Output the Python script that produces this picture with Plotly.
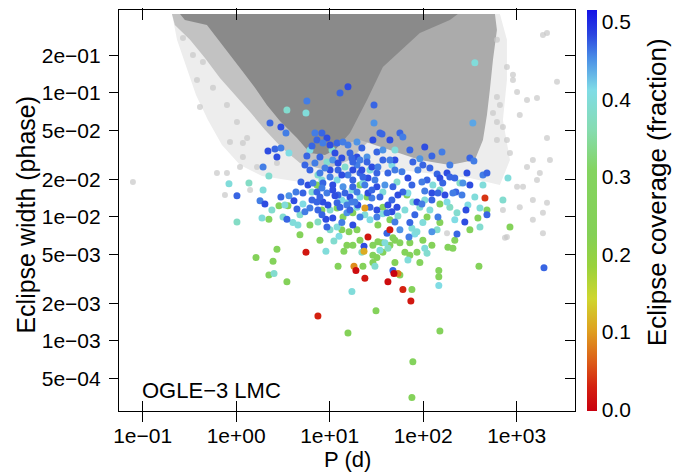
import plotly.graph_objects as go

# ---------------- data ----------------
x_tickvals = [0.1, 1, 10, 100, 1000]
x_ticktext = ["1e\u221201", "1e+00", "1e+01", "1e+02", "1e+03"]
y_tickvals = [0.2, 0.1, 0.05, 0.02, 0.01, 0.005, 0.002, 0.001, 0.0005]
y_ticktext = ["2e\u221201", "1e\u221201", "5e\u221202", "2e\u221202", "1e\u221202",
              "5e\u221203", "2e\u221203", "1e\u221203", "5e\u221204"]
cb_tickvals = [0.0, 0.1, 0.2, 0.3, 0.4, 0.5]
cb_ticktext = ["0.0", "0.1", "0.2", "0.3", "0.4", "0.5"]

# gray background population, outlined as density regions (period d, width phase)
halo_P = [0.206, 662, 787, 787, 713, 848, 662, 316, 56.4, 4.81, 1.89, 1.10, 0.705, 0.499, 0.372, 0.290, 0.233]
halo_W = [0.434, 0.434, 0.268, 0.127, 0.0606, 0.0288, 0.0181, 0.0206, 0.0239, 0.0191, 0.0214, 0.0263, 0.0381, 0.0606, 0.0964, 0.168, 0.268]
band_P = [0.206, 0.221, 0.321, 0.464, 0.671, 0.971, 1.41, 2.03, 3.09, 4.81, 8.91, 16.5, 27.0, 21.1, 4.81]
band_W = [0.434, 0.353, 0.268, 0.191, 0.132, 0.0964, 0.0703, 0.0504, 0.0360, 0.0272, 0.0239, 0.0288, 0.0418, 0.127, 0.434]
mid_P = [12.9, 586, 615, 558, 517, 481, 436, 357, 193, 92.2, 44.1, 21.1, 12.9]
mid_W = [0.434, 0.434, 0.322, 0.185, 0.106, 0.0665, 0.0418, 0.0288, 0.0263, 0.0288, 0.0347, 0.0418, 0.0381]
core_P = [0.251, 235, 193, 92.2, 37.1, 25.1, 16.5, 11.4, 8.91, 6.15, 4.47, 2.94, 2.13, 1.59, 1.18, 0.859, 0.623, 0.487, 0.283]
core_W = [0.434, 0.434, 0.388, 0.305, 0.162, 0.0878, 0.0476, 0.0347, 0.0316, 0.0328, 0.0434, 0.0594, 0.080, 0.110, 0.148, 0.202, 0.278, 0.353, 0.388]
faint_P = [0.381, 0.410, 0.623, 0.797, 1.10, 1.18, 0.0787, 615, 2110, 787, 913, 1290, 615, 558, 713, 1490, 1770, 787, 1170, 1490,
           1910, 1490, 1910, 787, 2110, 0.270, 0.345, 0.441, 0.565, 0.797, 0.859, 1.02, 1.31, 1.18, 0.759, 1.67, 2.73, 1.41, 615, 848,
           1290, 1650, 1010, 713, 2270, 1080, 913, 1910, 662, 1010, 1650, 615, 1080, 2700, 2110, 180, 750]
faint_W = [0.127, 0.0771, 0.0226, 0.0226, 0.0253, 0.0305, 0.0191, 0.268, 0.305, 0.162, 0.127, 0.0878, 0.0929, 0.069, 0.0532, 0.0288, 0.0226, 0.0418, 0.0175, 0.0137,
           0.0108, 0.0095, 0.0074, 0.0069, 0.0130, 0.278, 0.202, 0.178, 0.110, 0.080, 0.0403, 0.0583, 0.0434, 0.0395, 0.0150, 0.0253, 0.0272, 0.0165, 0.0418, 0.0328,
           0.0253, 0.0199, 0.0175, 0.0114, 0.0288, 0.0120, 0.140, 0.294, 0.080, 0.102, 0.0911, 0.0583, 0.0665, 0.123, 0.0434, 0.0074, 0.0068]

# coloured systems: period (d), eclipse width (phase), eclipse coverage (fraction)
blue_P = [12.9, 15.7, 5.71, 29.8, 29.8, 2.30, 3.01, 3.41, 36.3, 340, 56.4, 60.7, 2.19, 2.60, 3.01, 2.73, 5.71, 1.94, 4.93, 5.86,
          1.02, 1.80, 2.03, 3.01, 3.67, 4.36, 4.15, 4.47, 5.44, 3.49, 9.12, 7.49, 70.5, 124, 230, 23.3, 47.5, 1960, 159, 104,
          316, 349, 49.9, 77.6, 92.2, 124, 193, 180, 99.3, 59.3, 68.7, 110, 97, 141, 151, 162, 436, 481, 294, 266,
          224, 104, 124, 144, 208, 193, 85.8, 97, 124, 287, 481, 144, 279, 72.1, 56.4, 32.0, 46.3, 41.0,
          6.96, 8.27, 9.35, 12.0, 13.9, 19.6, 22.1, 29.0, 34.5, 7.31, 8.47, 11.4, 7.87, 6.96, 13.5, 16.5, 25.1, 32.0, 19.6, 28.3,
          6.15, 7.87, 10.1, 12.3, 15.7, 21.1, 25.7, 32.0, 6.63, 8.47, 10.8, 13.9, 17.7, 23.8, 32.0, 7.31, 9.35, 12.3, 16.5, 28.3,
          6.47, 8.47, 12.0, 15.3, 20.0, 27.0,
          37.1, 44.1, 19.6, 25.1, 32.8, 42.0, 17.7, 22.7, 30.5, 39.0, 47.5, 25.7, 34.5, 46.3, 18.6, 32.0, 41.0, 21.1, 52.5, 60.7,
          10.8, 17.7, 10.1, 13.5, 17.7, 8.27, 10.8, 14.6, 19.6, 7.31, 9.59, 12.9, 17.3, 8.27, 10.8, 15.3, 9.35, 13.5, 17.7,
          6.47, 10.1, 15.7, 17.3, 12.3, 8.91, 5.44, 22.1, 37.1, 49.9, 53.7, 75.8, 87.8, 118, 171, 260, 218, 316, 81.5, 49.9,
          16.5, 11.4, 6.15, 5.18, 44.1, 72.1, 21.1, 28.3, 42.0, 7.87]
blue_W = [0.100, 0.112, 0.0862, 0.080, 0.0573, 0.0573, 0.0532, 0.0476, 0.0467, 0.0573, 0.0476, 0.0442, 0.0340, 0.0353, 0.0360, 0.0305, 0.0310, 0.0253, 0.0191, 0.0181,
          0.0148, 0.0135, 0.0127, 0.0145, 0.0148, 0.0159, 0.0135, 0.0116, 0.0110, 0.0096, 0.0096, 0.0114, 0.0069, 0.0076, 0.0073, 0.0058, 0.0037, 0.0039, 0.0334, 0.0367,
          0.0299, 0.0283, 0.0288, 0.0278, 0.0294, 0.0310, 0.0263, 0.0226, 0.0263, 0.0231, 0.0206, 0.0199, 0.0191, 0.0222, 0.0206, 0.0188, 0.0218, 0.0226, 0.0226, 0.0188,
          0.0159, 0.0162, 0.0156, 0.0156, 0.0156, 0.0210, 0.0132, 0.0127, 0.0137, 0.0114, 0.0104, 0.0100, 0.0091, 0.0090, 0.0079, 0.0100, 0.0110, 0.0074,
          0.0476, 0.0476, 0.0434, 0.0395, 0.0403, 0.0403, 0.0360, 0.0418, 0.0476, 0.0418, 0.0395, 0.0328, 0.0305, 0.0272, 0.0299, 0.0328, 0.0305, 0.0334, 0.0263, 0.0253,
          0.0239, 0.0226, 0.0239, 0.0239, 0.0218, 0.0226, 0.0206, 0.0226, 0.0188, 0.0188, 0.0181, 0.0175, 0.0175, 0.0181, 0.0175, 0.0159, 0.0156, 0.0150, 0.0145, 0.0142,
          0.0137, 0.0132, 0.0130, 0.0125, 0.0125, 0.0120,
          0.0347, 0.0288, 0.0305, 0.0278, 0.0253, 0.0226, 0.0239, 0.0210, 0.0199, 0.0181, 0.0175, 0.0156, 0.0145, 0.0137, 0.0132, 0.0114, 0.0108, 0.0100, 0.0120, 0.0159,
          0.0288, 0.0278, 0.0210, 0.0218, 0.0199, 0.0171, 0.0165, 0.0156, 0.0159, 0.0132, 0.0125, 0.0120, 0.0132, 0.0104, 0.0098, 0.0108, 0.0083, 0.0090, 0.0086,
          0.0374, 0.0381, 0.0381, 0.0299, 0.0272, 0.0248, 0.0263, 0.0239, 0.0288, 0.0239, 0.0150, 0.0181, 0.0239, 0.0248, 0.0150, 0.0150, 0.0206, 0.0181, 0.0104, 0.0091,
          0.0114, 0.0148, 0.0118, 0.0156, 0.0418, 0.0347, 0.0288, 0.0165, 0.0125, 0.0145]
blue_cov = [0.47, 0.48, 0.46, 0.47, 0.45, 0.47, 0.48, 0.46, 0.47, 0.44,
            0.47, 0.46, 0.48, 0.47, 0.46, 0.48, 0.47, 0.46, 0.47, 0.48,
            0.47, 0.46, 0.48, 0.47, 0.45, 0.46, 0.48, 0.47, 0.46, 0.47,
            0.48, 0.47, 0.46, 0.45, 0.47, 0.48, 0.47, 0.47, 0.46, 0.48,
            0.47, 0.46, 0.48, 0.47, 0.45, 0.47, 0.46, 0.48, 0.47, 0.46,
            0.48, 0.47, 0.46, 0.47, 0.48, 0.47, 0.46, 0.47, 0.48, 0.45,
            0.47, 0.46, 0.48, 0.47, 0.46, 0.47, 0.48, 0.46, 0.47, 0.48,
            0.47, 0.46, 0.48, 0.47, 0.45, 0.46, 0.48, 0.47, 0.46, 0.47,
            0.48, 0.47, 0.46, 0.45, 0.47, 0.48, 0.47, 0.47, 0.46, 0.48,
            0.47, 0.46, 0.48, 0.47, 0.45, 0.47, 0.46, 0.48, 0.47, 0.46,
            0.48, 0.47, 0.46, 0.47, 0.48, 0.47, 0.46, 0.47, 0.48, 0.45,
            0.47, 0.46, 0.48, 0.47, 0.46, 0.47, 0.48, 0.46, 0.47, 0.48,
            0.47, 0.46, 0.48, 0.47, 0.45, 0.46, 0.48, 0.47, 0.46, 0.47,
            0.48, 0.47, 0.46, 0.45, 0.47, 0.48, 0.47, 0.47, 0.46, 0.48,
            0.47, 0.46, 0.48, 0.47, 0.45, 0.47, 0.46, 0.48, 0.47, 0.46,
            0.48, 0.47, 0.46, 0.47, 0.48, 0.47, 0.46, 0.47, 0.48, 0.45,
            0.47, 0.46, 0.48,
            0.47, 0.48, 0.46, 0.47, 0.48, 0.46, 0.47, 0.48, 0.47, 0.46,
            0.48, 0.47, 0.46, 0.47, 0.48, 0.46, 0.47, 0.48, 0.47, 0.46,
            0.47, 0.48, 0.46, 0.47, 0.48, 0.47, 0.46, 0.47, 0.48, 0.47]

cyan_P = [357, 3.49, 5.58, 3.67, 2.24, 0.838, 1.37, 1.94, 2.41, 5.18,
          1.89, 3.17, 4.05, 1.02, 4.58, 12.6, 11.1, 9.12, 2.54, 17.3,
          81.5, 104, 110, 34.5, 42.0, 68.7, 30.5, 147, 436, 713,
          807, 68.7, 77.6, 405, 193, 118, 405, 85.8, 27.0, 37.1,
          53.7, 39.0, 22.1, 75.8, 301, 9.35, 27.0, 52.5, 37.1, 21.1,
          63.8, 92.2, 127, 247, 357, 180, 230, 99.3, 141, 8.27,
          12.0, 15.3, 10.1, 12.0, 7.49, 19.6, 14.6, 6.15, 49.9, 10.6,
          22.7, 13.5, 6.47,
          17.3, 7.49, 46.3, 104, 151, 23.8, 4.81, 3.32, 218, 10.1]
cyan_W = [0.175, 0.0729, 0.069, 0.0328, 0.0214, 0.0185, 0.0188, 0.0165, 0.0114, 0.0127,
          0.0098, 0.0100, 0.0090, 0.0091, 0.0086, 0.0070, 0.0064, 0.0053, 0.0035, 0.0025,
          0.0073, 0.0056, 0.0051, 0.0054, 0.0056, 0.0045, 0.0040, 0.0028, 0.0181, 0.0137,
          0.0206, 0.0156, 0.0132, 0.0118, 0.0120, 0.0114, 0.0083, 0.0076, 0.0095, 0.0106,
          0.0102, 0.0062, 0.0052, 0.0081, 0.0125, 0.0278, 0.0239, 0.0191, 0.0159, 0.0145,
          0.0114, 0.0120, 0.0181, 0.0188, 0.0145, 0.0132, 0.0108, 0.0090, 0.0079, 0.0199,
          0.0199, 0.0130, 0.0114, 0.0083, 0.0091, 0.0120, 0.0253, 0.0347, 0.0347, 0.0347,
          0.0188, 0.0137, 0.0159,
          0.0165, 0.0218, 0.0263, 0.0137, 0.0165, 0.0104, 0.0104, 0.0125, 0.0095, 0.0079]
cyan_cov = [0.40, 0.39, 0.40, 0.41, 0.39, 0.40, 0.38, 0.40, 0.39, 0.41,
            0.40, 0.39, 0.40, 0.38, 0.40, 0.41, 0.39, 0.40, 0.39, 0.40,
            0.41, 0.40, 0.39, 0.40, 0.38, 0.40, 0.39, 0.41, 0.40, 0.39,
            0.40, 0.41, 0.39, 0.40, 0.38, 0.40, 0.39, 0.40, 0.41, 0.40,
            0.39, 0.40, 0.38, 0.40, 0.41, 0.39, 0.40, 0.39, 0.40, 0.41,
            0.40, 0.39, 0.40, 0.38, 0.40, 0.41, 0.39, 0.40, 0.39, 0.40,
            0.41, 0.40, 0.39, 0.40, 0.38, 0.40, 0.39, 0.41, 0.40, 0.39,
            0.40, 0.41, 0.39,
            0.40, 0.39, 0.41, 0.40, 0.38, 0.40, 0.39, 0.40, 0.41, 0.39]

green_P = [2.87, 3.58, 2.24, 13.5, 16.1, 15.3, 17.7, 14.2, 2.73, 1.63,
           2.48, 12.3, 2.24, 3.49, 15.7, 29.0, 36.3, 44.1, 37.1, 49.9,
           63.8, 72.1, 85.8, 124, 29.0, 32.0, 49.9, 184, 208, 395,
           22.7, 29.0, 56.4, 147, 147, 75.8, 31.3, 151, 77.6, 75.8,
           151, 385, 481, 848, 316, 32.8, 44.1, 47.5, 56.4, 32.8,
           72.1, 99.3, 21.1, 25.1, 7.87, 12.0, 17.7, 37.1, 67.1, 151,
           110, 7.31, 8.27, 13.9, 19.6,
           4.81, 7.87, 21.1, 92.2, 6.15, 218]
green_W = [0.0123, 0.0123, 0.0096, 0.0079, 0.0076, 0.0059, 0.0059, 0.0053, 0.0055, 0.0047,
           0.0044, 0.0040, 0.0034, 0.0030, 0.00116, 0.0059, 0.0062, 0.0059, 0.0052, 0.0065,
           0.0052, 0.0049, 0.0052, 0.0059, 0.0049, 0.0047, 0.0043, 0.0057, 0.0056, 0.0040,
           0.0040, 0.0043, 0.0034, 0.0037, 0.0033, 0.0026, 0.00175, 0.00120, 0.00068, 0.00035,
           0.0127, 0.0098, 0.0114, 0.0083, 0.0079, 0.0086, 0.0095, 0.0068, 0.0062, 0.0063,
           0.0062, 0.0065, 0.0181, 0.0145, 0.0175, 0.0118, 0.0108, 0.0120, 0.0150, 0.0090,
           0.0100, 0.0181, 0.0114, 0.0100, 0.0079,
           0.0072, 0.0065, 0.0065, 0.0043, 0.0086, 0.0065]
green_cov = [0.27, 0.26, 0.28, 0.25, 0.27, 0.24, 0.27, 0.28, 0.26, 0.25,
             0.27, 0.26, 0.28, 0.25, 0.24, 0.27, 0.26, 0.28, 0.27, 0.25,
             0.26, 0.27, 0.28, 0.25, 0.27, 0.26, 0.24, 0.27, 0.28, 0.26,
             0.25, 0.27, 0.26, 0.28, 0.27, 0.25, 0.26, 0.27, 0.28, 0.26,
             0.27, 0.25, 0.28, 0.26, 0.27, 0.24, 0.27, 0.26, 0.28, 0.25,
             0.27, 0.26, 0.28, 0.27, 0.25, 0.26, 0.27, 0.28, 0.26, 0.27,
             0.25, 0.27, 0.26, 0.28, 0.27,
             0.26, 0.27, 0.25, 0.28, 0.26, 0.27]

orange_P = [18.2, 23.3, 53.7, 23.8]
orange_W = [0.0040, 0.0053, 0.0035, 0.0118]
orange_cov = [0.09, 0.11, 0.08, 0.10]

red_P = [5.58, 19.1, 7.49, 25.7, 48.7, 23.8, 42.0, 60.7, 73.9, 458, 44.1]
red_W = [0.0052, 0.0037, 0.00159, 0.0069, 0.0035, 0.0032, 0.0030, 0.0026, 0.0021, 0.0142, 0.0079]
red_cov = [0.02, 0.01, 0.03, 0.02, 0.00, 0.02, 0.01, 0.03, 0.02, 0.04, 0.02]

# ---------------- styling ----------------
FONT = "Liberation Sans, Arial, Helvetica, sans-serif"
colorscale = [[0.0, "#c8000f"], [0.06, "#d42010"], [0.12, "#dc5a18"], [0.2, "#dfa020"],
              [0.28, "#cfd62e"], [0.36, "#9ad23c"], [0.44, "#84d056"], [0.6, "#84d460"],
              [0.7, "#86dcb0"], [0.8, "#80dce6"], [0.88, "#4a8ee6"], [0.94, "#2a44e0"],
              [1.0, "#1412e6"]]
CMIN, CMAX = -0.002, 0.515

fig = go.Figure()


def region(px, wy, color):
    fig.add_trace(go.Scatter(x=px, y=wy, mode="lines", fill="toself", fillcolor=color,
                             line=dict(width=0, color=color), hoverinfo="skip"))


region(halo_P, halo_W, "#ededed")
region(band_P, band_W, "#c2c2c2")
region(mid_P, mid_W, "#ababab")
region(core_P, core_W, "#8a8a8a")
fig.add_trace(go.Scatter(x=faint_P, y=faint_W, mode="markers", hoverinfo="skip",
                         marker=dict(size=6, color="#c8c8c8", opacity=0.7, line=dict(width=0))))


def colored(px, wy, cov, show=False):
    m = dict(size=7, color=cov, colorscale=colorscale, cmin=CMIN, cmax=CMAX,
             line=dict(width=0), showscale=show)
    if show:
        m["colorbar"] = dict(thickness=10, len=1, lenmode="fraction", y=0.5, yanchor="middle",
                             x=1.0263, xanchor="left", xpad=0, ypad=0, outlinewidth=0,
                             tickvals=cb_tickvals, ticktext=cb_ticktext, ticks="",
                             ticklabeloverflow="allow",
                             tickfont=dict(size=21, family=FONT, color="black"))
    fig.add_trace(go.Scatter(x=px, y=wy, mode="markers", marker=m))


colored(green_P, green_W, green_cov)
colored(cyan_P, cyan_W, cyan_cov)
colored(blue_P, blue_W, blue_cov, show=True)
colored(orange_P, orange_W, orange_cov)
colored(red_P, red_W, red_cov)

# helper trace for the right-hand inner ticks
fig.add_trace(go.Scatter(x=[None], y=[None], yaxis="y2", mode="markers", hoverinfo="skip"))

axis_common = dict(showgrid=False, zeroline=False, linecolor="black", linewidth=1.2,
                   tickcolor="black", tickwidth=1.2,
                   tickfont=dict(size=21, family=FONT, color="black"))

fig.update_layout(
    width=683, height=472,
    margin=dict(l=111, r=116, t=2, b=69, autoexpand=False),
    plot_bgcolor="white", paper_bgcolor="white",
    showlegend=False,
    font=dict(family=FONT, color="black"),
    xaxis=dict(type="log", range=[-1.253, 3.624], tickvals=x_tickvals, ticktext=x_ticktext,
               ticks="inside", ticklen=10, showline=True, mirror="allticks",
               ticklabelstandoff=6, **axis_common),
    yaxis=dict(type="log", range=[-3.565, -0.331], tickvals=y_tickvals, ticktext=y_ticktext,
               ticks="outside", ticklen=9, showline=True, mirror=True,
               ticklabelstandoff=4, **axis_common),
    yaxis2=dict(type="log", range=[-3.565, -0.331], tickvals=y_tickvals, overlaying="y",
                side="right", anchor="x", ticks="inside", ticklen=10, showticklabels=False,
                showline=False, showgrid=False, zeroline=False, tickcolor="black", tickwidth=1.2),
    annotations=[
        dict(text="OGLE\u22123 LMC", x=0.046, y=0.052, xref="paper", yref="paper",
             xanchor="left", yanchor="middle", showarrow=False,
             font=dict(size=22, family=FONT, color="black")),
        dict(text="Eclipse width (phase)", x=-0.206, y=0.49, xref="paper", yref="paper",
             textangle=-90, xanchor="center", yanchor="middle", showarrow=False,
             font=dict(size=25, family=FONT, color="black")),
        dict(text="P (d)", x=0.5, y=-0.122, xref="paper", yref="paper",
             xanchor="center", yanchor="middle", showarrow=False,
             font=dict(size=22, family=FONT, color="black")),
        dict(text="Eclipse coverage (fraction)", x=1.18, y=0.546, xref="paper", yref="paper",
             textangle=-90, xanchor="center", yanchor="middle", showarrow=False,
             font=dict(size=26, family=FONT, color="black")),
    ],
)

fig.write_html("out.html")
